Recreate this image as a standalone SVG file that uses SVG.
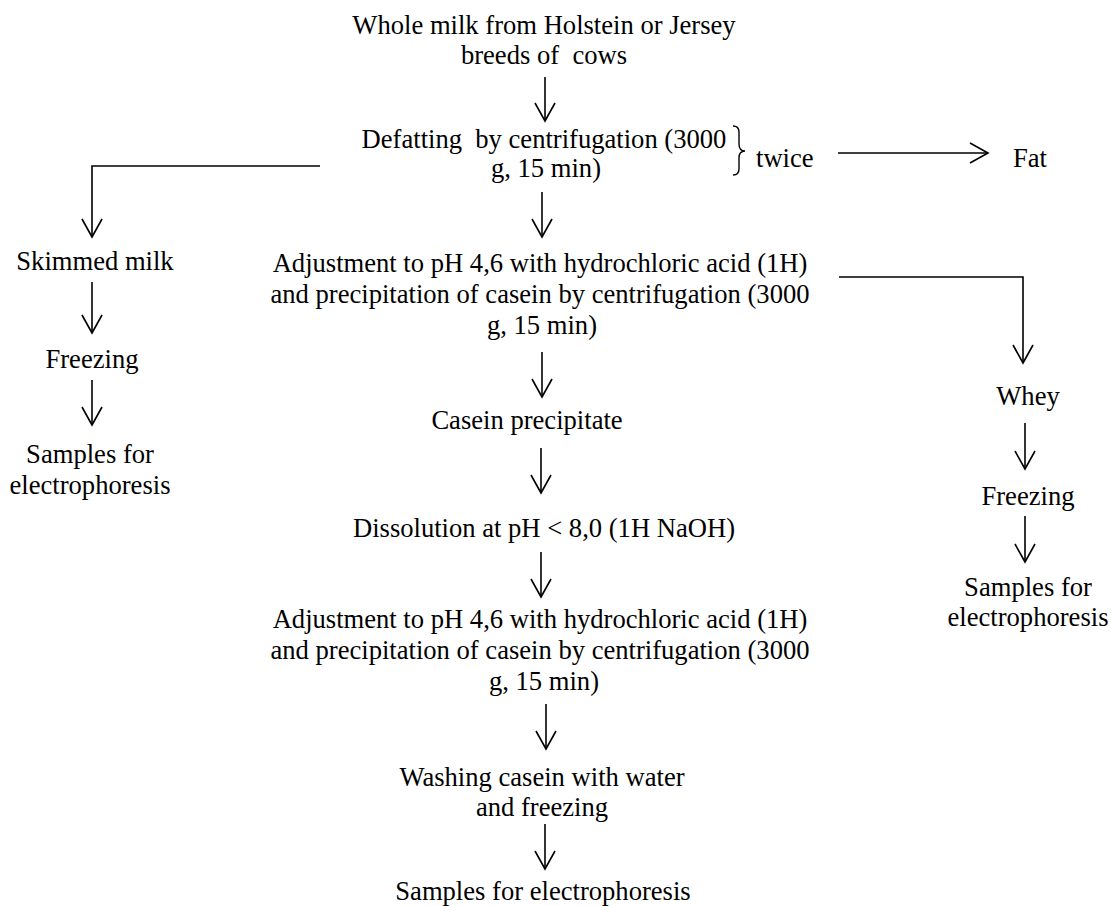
<svg xmlns="http://www.w3.org/2000/svg" width="1111" height="906" viewBox="0 0 1111 906">
<defs>
<marker id="ah" markerUnits="userSpaceOnUse" markerWidth="30" markerHeight="30" refX="0" refY="0" orient="auto" overflow="visible">
<path d="M-18,-10 L0,0 L-18,10" fill="none" stroke="#000" stroke-width="1.6"/>
</marker>
<style>
text{font-family:"Liberation Serif","Times New Roman",serif;font-size:26.6px;fill:#000;text-anchor:middle;white-space:pre}
.l{text-anchor:start}
.c{fill:none;stroke:#000;stroke-width:1.6;marker-end:url(#ah)}
.b{fill:none;stroke:#000;stroke-width:1.4}
</style>
</defs>
<rect width="1111" height="906" fill="#fff"/>
<g id="n-whole"><text x="544" y="34">Whole milk from Holstein or Jersey</text><text x="544" y="64">breeds of  cows</text></g>
<g id="n-defat"><text x="544" y="148">Defatting  by centrifugation (3000</text><text x="546" y="177">g, 15 min)</text></g>
<g id="n-twice"><path class="b" d="M733,126 Q739,126 739,132 L739,144 Q739,151 745,151 Q739,151 739,158 L739,169 Q739,175 733,175"/><text class="l" x="756" y="167">twice</text></g>
<g id="n-fat"><text class="l" x="1013" y="167">Fat</text></g>
<g id="n-skim"><text x="95" y="270">Skimmed milk</text></g>
<g id="n-freeze1"><text x="92" y="368">Freezing</text></g>
<g id="n-samples1"><text x="90" y="463">Samples for</text><text x="90" y="494">electrophoresis</text></g>
<g id="n-adj1"><text x="540" y="272">Adjustment to pH 4,6 with hydrochloric acid (1H)</text><text x="540" y="303">and precipitation of casein by centrifugation (3000</text><text x="542" y="334">g, 15 min)</text></g>
<g id="n-whey"><text x="1028" y="405">Whey</text></g>
<g id="n-freeze2"><text x="1028" y="505">Freezing</text></g>
<g id="n-samples2"><text x="1028" y="596">Samples for</text><text x="1028" y="626">electrophoresis</text></g>
<g id="n-casein"><text x="527" y="429">Casein precipitate</text></g>
<g id="n-dissol"><text x="544" y="537">Dissolution at pH &lt; 8,0 (1H NaOH)</text></g>
<g id="n-adj2"><text x="540" y="628">Adjustment to pH 4,6 with hydrochloric acid (1H)</text><text x="540" y="659">and precipitation of casein by centrifugation (3000</text><text x="544" y="690">g, 15 min)</text></g>
<g id="n-wash"><text x="542" y="786">Washing casein with water</text><text x="542" y="816">and freezing</text></g>
<g id="n-samples3"><text x="543" y="900">Samples for electrophoresis</text></g>
<g id="connectors">
<path class="c" d="M545,77 V121"/>
<path class="c" d="M838,153 H988"/>
<path class="c" d="M320,166 H92 V237"/>
<path class="c" d="M92,282 V333"/>
<path class="c" d="M92,380 V425"/>
<path class="c" d="M542,192 V237"/>
<path class="c" d="M839,277 H1023 V363"/>
<path class="c" d="M1025,423 V469"/>
<path class="c" d="M1025,516 V562"/>
<path class="c" d="M542,352 V397"/>
<path class="c" d="M541,448 V493"/>
<path class="c" d="M541,552 V597"/>
<path class="c" d="M546,704 V749"/>
<path class="c" d="M545,824 V869"/>
</g>
</svg>
